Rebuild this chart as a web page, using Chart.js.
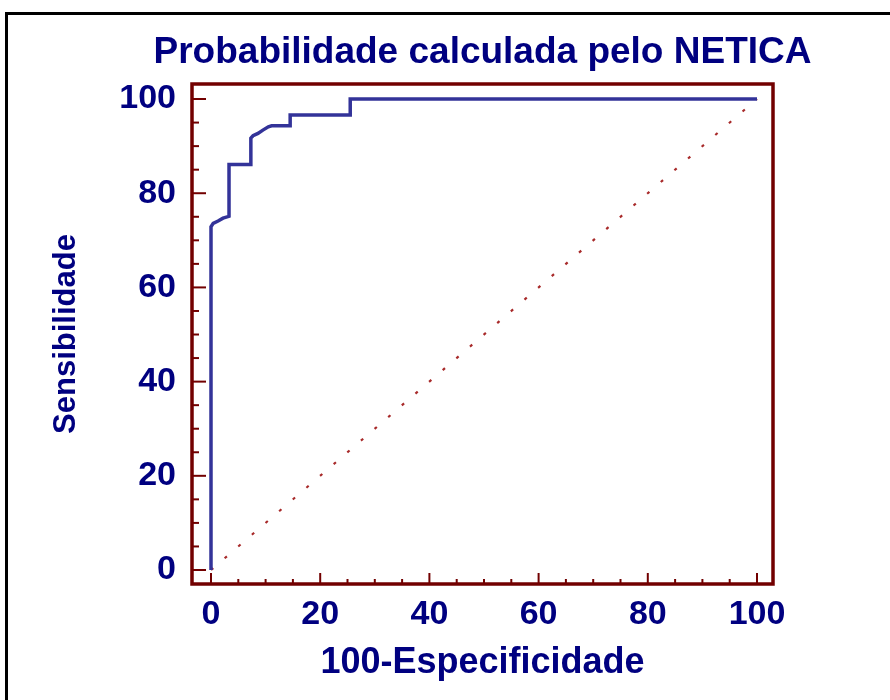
<!DOCTYPE html>
<html>
<head>
<meta charset="utf-8">
<script src="https://cdn.jsdelivr.net/npm/chart.js@4"></script>
<style>
  html, body { margin: 0; padding: 0; background: #fff; }
  #wrap { position: relative; width: 890px; height: 700px; }
  #border { position: absolute; left: 5px; top: 12px; right: -10px; bottom: -10px;
            border-left: 3px solid #000; border-top: 3px solid #000; }
  #myChart { position: absolute; left: 0; top: 0; }
</style>
</head>
<body>
<div id="wrap">
  <div id="border"></div>
  <canvas id="myChart" width="890" height="700"></canvas>
</div>
<script>
// curva ROC (100-Especificidade, Sensibilidade)
const rocX = [0, 0, 0.4, 1.3, 2.2, 3.3, 3.3, 7.3, 7.3, 7.7, 8.6, 9.5, 10.5, 11.1, 14.5, 14.5, 25.5, 25.5, 100];
const rocY = [0, 72.9, 73.6, 74.1, 74.7, 75.1, 86.1, 86.1, 91.7, 92.2, 92.7, 93.4, 94.1, 94.3, 94.3, 96.6, 96.6, 100, 100];
const diagX = [0, 100];
const diagY = [0, 100];

const majorTicks = [0, 20, 40, 60, 80, 100];
const minorTicks = [5, 10, 15, 25, 30, 35, 45, 50, 55, 65, 70, 75, 85, 90, 95];

const titleText = "Probabilidade calculada pelo NETICA";
const xTitle = "100-Especificidade";
const yTitle = "Sensibilidade";

const navy = "#000080";
const maroon = "#720000";
const fam = "'Liberation Sans', Arial, sans-serif";

function toPoints(xs, ys) {
  return xs.map((x, i) => ({ x: x, y: ys[i] }));
}

// moldura, marcas para dentro e titulo (mais largo que a area do grafico)
const framePlugin = {
  id: "frame",
  afterDatasetsDraw(chart) {
    const ctx = chart.ctx;
    const a = chart.chartArea;
    const sx = chart.scales.x;
    const sy = chart.scales.y;
    ctx.save();
    ctx.strokeStyle = maroon;
    ctx.lineWidth = 2;
    majorTicks.forEach((v) => {
      let px = sx.getPixelForValue(v);
      ctx.beginPath(); ctx.moveTo(px, a.bottom); ctx.lineTo(px, a.bottom - 11); ctx.stroke();
      let py = sy.getPixelForValue(v);
      ctx.beginPath(); ctx.moveTo(a.left, py); ctx.lineTo(a.left + 14, py); ctx.stroke();
    });
    minorTicks.forEach((v) => {
      let px = sx.getPixelForValue(v);
      ctx.beginPath(); ctx.moveTo(px, a.bottom); ctx.lineTo(px, a.bottom - 5); ctx.stroke();
      let py = sy.getPixelForValue(v);
      ctx.beginPath(); ctx.moveTo(a.left, py); ctx.lineTo(a.left + 7, py); ctx.stroke();
    });
    ctx.lineWidth = 3.5;
    ctx.strokeRect(a.left, a.top, a.right - a.left, a.bottom - a.top);

    ctx.fillStyle = navy;
    ctx.font = "bold 37px " + fam;
    ctx.textAlign = "center";
    ctx.textBaseline = "middle";
    ctx.fillText(titleText, (a.left + a.right) / 2, 53);
    ctx.restore();
  },
};

let ctx = document.getElementById("myChart").getContext("2d");
let myChart = new Chart(ctx, {
  type: "line",
  data: {
    datasets: [
      {
        label: "ROC",
        data: toPoints(rocX, rocY),
        borderColor: "#333399",
        borderWidth: 3.5,
        pointRadius: 0,
        tension: 0,
        fill: false,
      },
      {
        label: "diagonal",
        data: toPoints(diagX, diagY),
        borderColor: "#a82a2a",
        borderWidth: 2.2,
        borderDash: [3, 15],
        pointRadius: 0,
        fill: false,
      },
    ],
  },
  options: {
    responsive: false,
    animation: false,
    events: [],
    layout: { padding: { left: 0, right: 117, top: 84, bottom: 0 } },
    plugins: {
      legend: { display: false },
      tooltip: { enabled: false },
      title: { display: false },
    },
    scales: {
      x: {
        type: "linear",
        min: -3.48,
        max: 102.93,
        grid: { display: false, drawTicks: false },
        border: { display: false },
        afterBuildTicks: (s) => { s.ticks = majorTicks.map((v) => ({ value: v })); },
        afterFit: (s) => { s.height = 116; },
        ticks: { color: navy, padding: 10, maxRotation: 0, font: { family: fam, size: 34, weight: "bold" } },
        title: {
          display: true,
          text: xTitle,
          color: navy,
          font: { family: fam, size: 36, weight: "bold", lineHeight: 1.2 },
          padding: { top: 0, bottom: 15 },
        },
      },
      y: {
        type: "linear",
        min: -2.97,
        max: 103.19,
        grid: { display: false, drawTicks: false },
        border: { display: false },
        afterBuildTicks: (s) => { s.ticks = majorTicks.map((v) => ({ value: v })); },
        afterFit: (s) => { s.width = 192; },
        ticks: { color: navy, padding: 16, font: { family: fam, size: 34, weight: "bold" } },
        title: {
          display: true,
          text: yTitle,
          color: navy,
          font: { family: fam, size: 31, weight: "bold", lineHeight: 1.2 },
          padding: { top: 48, bottom: 0 },
        },
      },
    },
  },
  plugins: [framePlugin],
});
</script>
</body>
</html>
